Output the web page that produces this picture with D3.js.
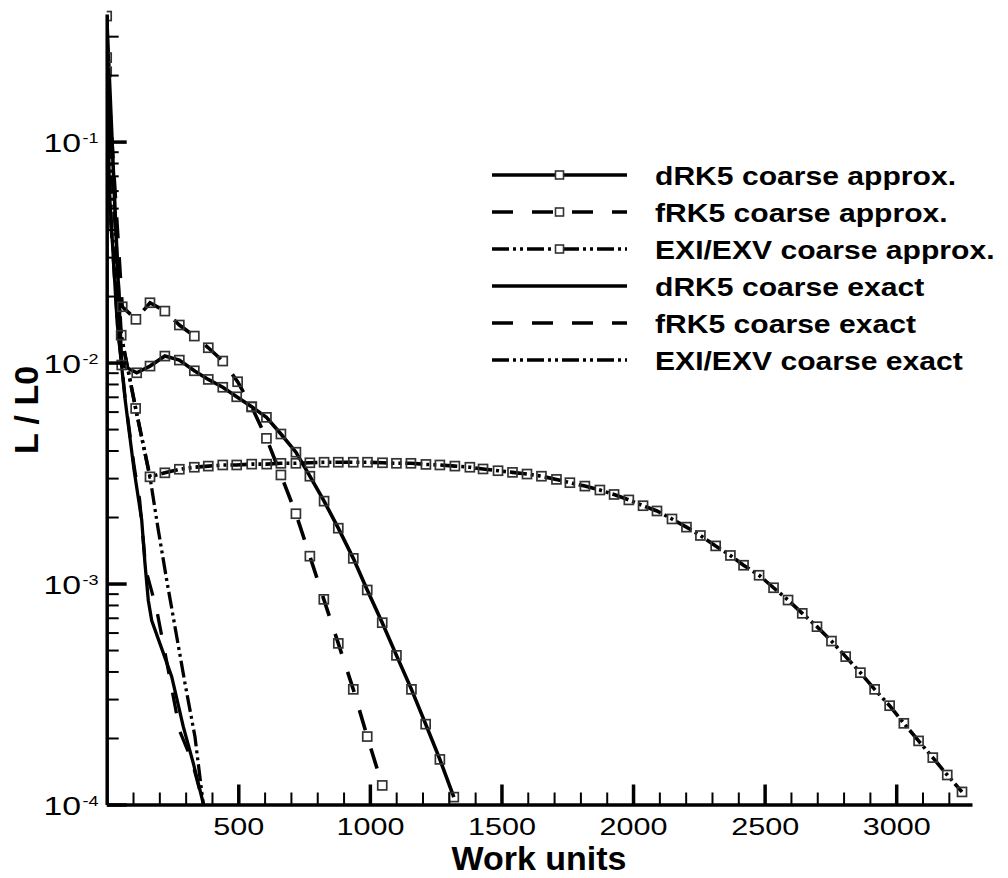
<!DOCTYPE html>
<html><head><meta charset="utf-8">
<script src="https://cdn.jsdelivr.net/npm/d3@7"></script>
<style>body{margin:0;background:#fff}svg{display:block}</style>
</head><body>
<svg id="c" width="1008" height="878"></svg>
<script>
// ---- data: [work units, L/L0] ----
const dRK5Approx = [[0,0.37],[57,0.00975],[114,0.00899],[164.5,0.00964],[221,0.0107],[276,0.01026],[333,0.00918],[386,0.00839],[441,0.00773],[494,0.0070],[551,0.00631],[607,0.00565],[662,0.00475],[719,0.00393],[772,0.00306],[826,0.00236],[880,0.00178],[937,0.0013],[990,0.000935],[1047,0.000665],[1101,0.000473],[1158,0.000332],[1212,0.000231],[1266,0.00016],[1319,0.000108]];
const fRK5Approx = [[0,0.24],[59,0.01789],[111,0.01569],[164.5,0.01865],[221,0.0171],[276,0.01479],[333,0.01318],[386,0.01167],[441,0.01016],[497.5,0.00819],[551,0.0063],[607,0.00454],[662,0.0031],[719,0.00207],[772,0.00133],[825,0.000848],[880,0.000536],[937,0.000332],[990,0.000203],[1047,0.000122]];
const exiApprox = [[0,0.207],[55,0.0133],[110,0.0062],[164.5,0.00304],[221,0.00317],[276,0.00329],[333,0.00336],[386,0.0034],[441,0.00344],[494,0.00344],[551,0.00347],[608,0.00347],[662,0.0035],[719,0.0035],[772,0.00352],[826,0.00354],[880,0.00354],[937,0.00354],[991,0.00354],[1048,0.00352],[1101,0.0035],[1156,0.0035],[1213,0.00346],[1266,0.00344],[1323,0.0034],[1380,0.00336],[1430,0.0033],[1487,0.00324],[1542,0.003185],[1597,0.00313],[1652,0.00306],[1709,0.00296],[1760,0.00286],[1817,0.00276],[1874,0.00265],[1928,0.00253],[1984,0.00239],[2038,0.00225],[2091,0.00213],[2148,0.00196],[2203,0.0018],[2256,0.00165],[2314,0.00148],[2370,0.00134],[2420,0.00121],[2479,0.00109],[2534,0.000957],[2589,0.000842],[2643,0.000733],[2699,0.000638],[2754,0.000549],[2808,0.000467],[2864,0.000395],[2918,0.000332],[2975,0.00028],[3029,0.000233],[3085,0.000194],[3139,0.000163],[3194,0.000136],[3250,0.000114]];
const dRK5Exact = [[0,0.37],[10,0.06],[40,0.015],[70,0.0068],[104,0.00326],[133,0.00194],[145.5,0.00123],[158,0.00084],[171,0.00068],[202,0.000536],[247,0.000379],[291,0.000225],[329,0.000154],[368,0.0001]];
const fRK5Exact = [[0,0.24],[12,0.05],[42,0.0145],[72,0.0066],[104,0.0034],[125,0.0024],[149,0.00115],[190,0.00076],[221,0.00049],[278,0.000214],[323,0.000159],[368,0.0001]];
const exiExact = [[0,0.207],[18,0.04],[55,0.0133],[110,0.0062],[164.5,0.00303],[196,0.001747],[228,0.001037],[259.4,0.000638],[297.4,0.000354],[335.4,0.0002027],[367,0.0001]];

const xTickValues = [500,1000,1500,2000,2500,3000];
const yTickExponents = [-4,-3,-2,-1];
const legendLabels = ["dRK5 coarse approx.","fRK5 coarse approx.","EXI/EXV coarse approx.","dRK5 coarse exact","fRK5 coarse exact","EXI/EXV coarse exact"];
const xTitle = "Work units";
const yTitle = "L / L0";

// ---- layout ----
const font = "'Liberation Sans', Arial, Helvetica, sans-serif";
const svg = d3.select('#c');
const x = d3.scaleLinear().domain([0,3288]).range([106.7,972]);
const y = d3.scaleLog().domain([1e-4,0.378]).range([804.5,14]);
const x0 = x.range()[0], yB = y.range()[0];

function stretch(sel,f){
  sel.each(function(){
    const w=this.getComputedTextLength();
    d3.select(this).attr('textLength',w*f).attr('lengthAdjust','spacingAndGlyphs');
  });
}

const dashStyles = {solid:null, dash:"21,19", dd:"17,4,3,4,3,4"};
const series = [
  {data:dRK5Approx, dash:'solid', w:3.6, mk:true},
  {data:fRK5Approx, dash:'dash', w:3.6, mk:true},
  {data:exiApprox, dash:'dd', w:3.6, mk:true},
  {data:dRK5Exact, dash:'solid', w:3.3, mk:false},
  {data:fRK5Exact, dash:'dash', w:3.3, mk:false},
  {data:exiExact, dash:'dd', w:3.3, mk:false}
];

// clip
svg.append('defs').append('clipPath').attr('id','clip').append('rect')
  .attr('x',x0).attr('y',0).attr('width',x.range()[1]-x0+4).attr('height',yB+1);

const line = d3.line().x(d=>x(d[0])).y(d=>y(d[1]));
const plot = svg.append('g').attr('clip-path','url(#clip)');
series.slice().reverse().forEach(s=>{
  plot.append('path').datum(s.data).attr('d',line).attr('fill','none')
    .attr('stroke','#000').attr('stroke-width',s.w)
    .attr('stroke-dasharray',dashStyles[s.dash]);
});
series.filter(s=>s.mk).forEach(s=>{
  plot.append('g').selectAll('rect').data(s.data).join('rect')
    .attr('x',d=>x(d[0])-4.5).attr('y',d=>y(d[1])-4.5)
    .attr('width',9).attr('height',9)
    .attr('fill','none').attr('stroke','#333').attr('stroke-width',1.7);
});

// x axis minor + major
const xMinor = d3.range(100,3288,100).filter(v=>v%500!==0);
const gxm = svg.append('g').attr('transform',`translate(0,${yB})`)
  .call(d3.axisBottom(x).tickValues(xMinor).tickSize(-12).tickSizeOuter(0).tickFormat(''));
gxm.select('.domain').remove();
gxm.selectAll('.tick line').attr('stroke','#000').attr('stroke-width',2);
const gx = svg.append('g').attr('transform',`translate(0,${yB})`)
  .call(d3.axisBottom(x).tickValues(xTickValues).tickSize(-20).tickSizeOuter(0).tickPadding(14).tickFormat(d3.format('d')));
gx.select('.domain').attr('stroke','#000').attr('stroke-width',3.5);
gx.selectAll('.tick line').attr('stroke','#000').attr('stroke-width',3.5);
gx.selectAll('.tick text').attr('font-family',font).attr('font-size',23.5).attr('fill','#000')
  .call(stretch,1.3);

// y axis minor + major
const yMinor = [];
yTickExponents.forEach(e=>{ for(let m=2;m<=9;m++){ const v=m*Math.pow(10,e); if(v<=y.domain()[1]) yMinor.push(v);} });
const gym = svg.append('g').attr('transform',`translate(${x0},0)`)
  .call(d3.axisLeft(y).tickValues(yMinor).tickSize(-12).tickSizeOuter(0).tickFormat(''));
gym.select('.domain').remove();
gym.selectAll('.tick line').attr('stroke','#000').attr('stroke-width',2);
const yMajor = yTickExponents.map(e=>Math.pow(10,e));
const gy = svg.append('g').attr('transform',`translate(${x0},0)`)
  .call(d3.axisLeft(y).tickValues(yMajor).tickSize(-20).tickSizeOuter(0).tickFormat(''));
gy.select('.domain').attr('stroke','#000').attr('stroke-width',3.5);
gy.selectAll('.tick line').attr('stroke','#000').attr('stroke-width',3.5);

// y labels 10^e
const yl = svg.append('g').attr('font-family',font).attr('fill','#000');
yTickExponents.forEach(e=>{
  const py = y(Math.pow(10,e));
  yl.append('text').attr('x',81).attr('y',py+10).attr('text-anchor','end')
    .attr('font-size',26).text('10').call(stretch,1.3);
  yl.append('text').attr('x',82.5).attr('y',py+1).attr('text-anchor','start')
    .attr('font-size',15).text(String(e)).call(stretch,1.2);
});

// titles
svg.append('text').attr('x',539).attr('y',870).attr('text-anchor','middle')
  .attr('font-family',font).attr('font-weight','bold').attr('font-size',34).text(xTitle);
svg.append('text').attr('transform','translate(38,410) rotate(-90)').attr('text-anchor','middle')
  .attr('font-family',font).attr('font-weight','bold').attr('font-size',34).text(yTitle);

// legend
const lg = svg.append('g');
const rowY = d3.scaleLinear().domain([0,5]).range([175,360]);
series.forEach((s,i)=>{
  const ry = rowY(i);
  lg.append('line').attr('x1',492).attr('x2',627).attr('y1',ry).attr('y2',ry)
    .attr('stroke','#000').attr('stroke-width',s.w).attr('stroke-dasharray',dashStyles[s.dash]);
  if(s.mk){
    lg.append('rect').attr('x',559.5-4).attr('y',ry-4).attr('width',8).attr('height',8)
      .attr('fill','#fff').attr('stroke','#333').attr('stroke-width',1.6);
  }
  lg.append('text').attr('x',655).attr('y',ry+9.5).attr('font-family',font)
    .attr('font-weight','bold').attr('font-size',25.5).attr('fill','#000')
    .text(legendLabels[i]).call(stretch,1.18);
});
</script>
</body></html>
